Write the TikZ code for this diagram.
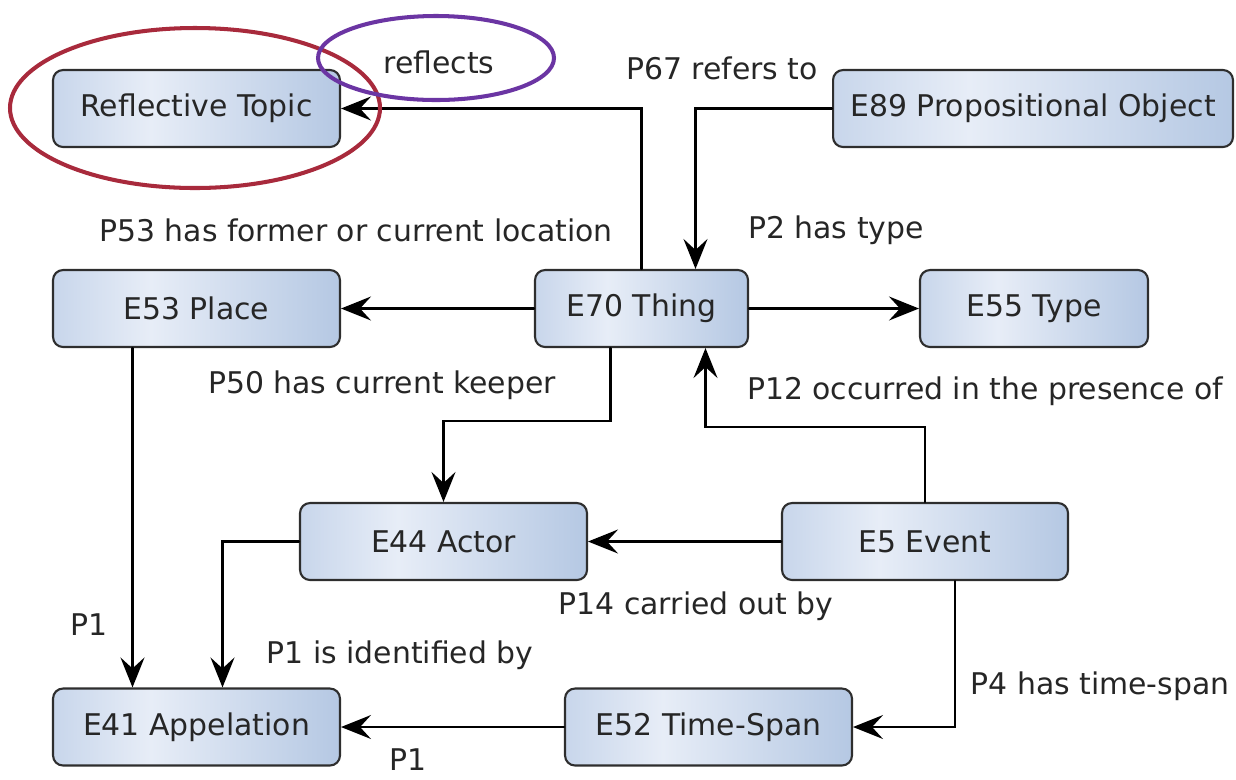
\documentclass[tikz,border=0pt]{standalone}
\usepackage{fontspec}
\setmainfont{DejaVu Sans}
\usetikzlibrary{arrows.meta}
\usetikzlibrary{calc}
\definecolor{boxleft}{HTML}{C8D6EB}
\definecolor{boxmid}{HTML}{E7EDF7}
\definecolor{boxright}{HTML}{B5C8E3}
\definecolor{rimgray}{HTML}{2E2E2E}
\definecolor{ringred}{HTML}{A82A3C}
\definecolor{ringpurple}{HTML}{6B35A3}
\pgfdeclarehorizontalshading{entityfill}{100bp}{color(0bp)=(boxleft); color(25bp)=(boxleft);
  color(42bp)=(boxmid); color(75bp)=(boxright); color(100bp)=(boxright)}

\begin{document}
\begin{tikzpicture}[x=0.02cm, y=-0.02cm, line cap=round,
    entity/.style={draw=rimgray, line width=1.2pt, rounded corners=2mm,
      shading=entityfill, minimum height=1.54cm, inner sep=0pt, text=black!85,
      font=\fontsize{17}{19}\selectfont},
    link/.style={line width=1.4pt, -{Stealth[length=6mm, width=4.8mm, inset=2.2mm]}},
    relname/.style={inner sep=0pt, text=black!85, font=\fontsize{17}{19}\selectfont}]
    \useasboundingbox (0,0) rectangle (1236,779);

    % classes
    \node[entity, minimum width=5.74cm] (topic) at (196.5,108.5) {Reflective Topic};
    \node[entity, minimum width=8cm] (prop) at (1033,108.5) {E89 Propositional Object};
    \node[entity, minimum width=5.74cm] (place) at (196.5,308.5) {E53 Place};
    \node[entity, minimum width=4.26cm] (thing) at (641.5,308.5) {E70 Thing};
    \node[entity, minimum width=4.56cm] (type) at (1034,308.5) {E55 Type};
    \node[entity, minimum width=5.74cm] (actor) at (443.5,541.5) {E44 Actor};
    \node[entity, minimum width=5.72cm] (event) at (925,541.5) {E5 Event};
    \node[entity, minimum width=5.74cm] (appel) at (196.5,727) {E41 Appelation};
    \node[entity, minimum width=5.74cm] (span) at (708.5,727) {E52 Time-Span};

    % properties
    \draw[link] (thing.north) |- (topic.east);
    \draw[link] (prop.west) -| ($(thing.north)+(54,0)$);
    \draw[link] (thing.west) -- (place.east);
    \draw[link] (thing.east) -- (type.west);
    \draw[link] ($(thing.south)+(-31,0)$) -- ++(0,73) -| (actor.north);
    \draw[link] (event.north) -- ++(0,-75) -| ($(thing.south)+(64,0)$);
    \draw[link] (event.west) -- (actor.east);
    \draw[link] ($(place.south)+(-64,0)$) -- ($(appel.north)+(-64,0)$);
    \draw[link] (actor.west) -| ($(appel.north)+(26,0)$);
    \draw[link] (span.west) -- (appel.east);
    \draw[link] ($(event.south)+(30,0)$) |- (span.east);

    % property names
    \node[relname] (reflects) at (439,62) {reflects};
    \node[relname] (p67) at (722,68) {P67 refers to};
    \node[relname] (p53) at (356,230) {P53 has former or current location};
    \node[relname] (p2) at (836,230) {P2 has type};
    \node[relname] (p50) at (382,385) {P50 has current keeper};
    \node[relname] (p12) at (985,391) {P12 occurred in the presence of};
    \node[relname] (p14) at (696,606) {P14 carried out by};
    \node[relname] (p1a) at (89,625) {P1};
    \node[relname] (p1b) at (400,655) {P1 is identified by};
    \node[relname] (p4) at (1100,686) {P4 has time-span};
    \node[relname] (p1c) at (408,760) {P1};

    % highlight rings
    \draw[ringred, line width=2.3pt] (195,108) ellipse (185 and 80);
    \draw[ringpurple, line width=2.3pt] (436,58) ellipse (118 and 42);
\end{tikzpicture}
\end{document}
